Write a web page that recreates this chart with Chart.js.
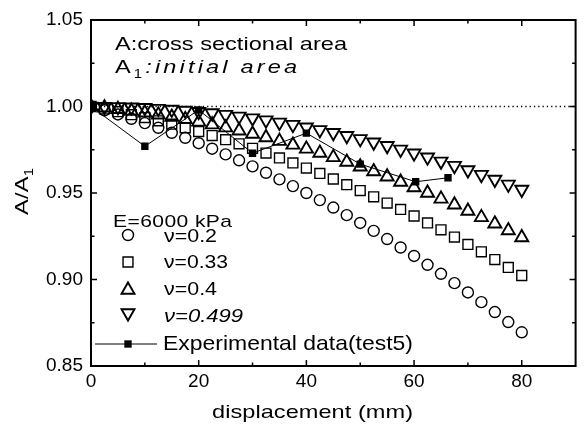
<!DOCTYPE html>
<html><head><meta charset="utf-8">
<script src="https://cdn.jsdelivr.net/npm/chart.js@4.4.1/dist/chart.umd.min.js"></script>
<style>html,body{margin:0;padding:0;background:#fff}canvas{display:block}</style>
</head><body>
<canvas id="c" width="585" height="425"></canvas>
<script>
// ---------- data ----------
const displacement = [0,2.5,5,7.5,10,12.5,15,17.5,20,22.5,25,27.5,30,32.5,35,37.5,40,42.5,45,47.5,50,52.5,55,57.5,60,62.5,65,67.5,70,72.5,75,77.5,80];
const nu02   = [1.000,0.9978,0.9954,0.9929,0.9904,0.9877,0.9848,0.9819,0.9788,0.9756,0.9723,0.9689,0.9654,0.9617,0.9579,0.9540,0.9500,0.9459,0.9416,0.9372,0.9327,0.9281,0.9234,0.9185,0.9136,0.9085,0.9033,0.8979,0.8925,0.8869,0.8812,0.8754,0.8695];
const nu033  = [1.000,0.9986,0.9970,0.9953,0.9936,0.9917,0.9898,0.9877,0.9855,0.9832,0.9808,0.9784,0.9758,0.9731,0.9703,0.9674,0.9644,0.9613,0.9581,0.9548,0.9514,0.9478,0.9442,0.9405,0.9367,0.9327,0.9287,0.9245,0.9203,0.9160,0.9115,0.9070,0.9023];
const nu04   = [1.000,0.9993,0.9984,0.9974,0.9964,0.9952,0.9939,0.9926,0.9911,0.9895,0.9878,0.9860,0.9841,0.9821,0.9800,0.9778,0.9755,0.9731,0.9706,0.9679,0.9652,0.9624,0.9594,0.9564,0.9532,0.9500,0.9466,0.9432,0.9396,0.9359,0.9322,0.9283,0.9243];
const nu0499 = [1.000,0.9999,0.9998,0.9996,0.9993,0.9988,0.9983,0.9977,0.9970,0.9962,0.9953,0.9943,0.9933,0.9921,0.9908,0.9895,0.9880,0.9865,0.9848,0.9831,0.9813,0.9793,0.9773,0.9752,0.9730,0.9707,0.9683,0.9658,0.9633,0.9606,0.9578,0.9550,0.9520];
const expDisp  = [0,10,20,30,40,50,60.3,66.3];
const expRatio = [1.000,0.977,0.998,0.973,0.9846,0.9667,0.9565,0.9588];
const xMin = 0, xMax = 90, yMin = 0.85, yMax = 1.05;
const xTicks = [0,20,40,60,80];
const xMinorTicks = [10,30,50,70];
const yTicks = [0.85,0.90,0.95,1.00,1.05];
const yMinorTicks = [0.875,0.925,0.975,1.025];
const initialLevel = 1.0;
const seriesLabels = ['ν=0.2','ν=0.33','ν=0.4','ν=0.499','Experimental data(test5)'];

// ---------- chart ----------
const FAM = "'Liberation Sans', Arial, Helvetica, sans-serif";
const pts = (xs, ys) => xs.map((x, i) => ({x: x, y: ys[i]}));
const openMarker = {showLine:false, borderColor:'#000', backgroundColor:'rgba(0,0,0,0)',
  pointBackgroundColor:'rgba(0,0,0,0)', pointBorderColor:'#000'};

const datasets = [
  Object.assign({label:seriesLabels[0], data:pts(displacement,nu02), pointStyle:'circle', pointRadius:5.5, pointBorderWidth:1.4}, openMarker),
  Object.assign({label:seriesLabels[1], data:pts(displacement,nu033), pointStyle:'rect', pointRadius:7, pointBorderWidth:1.4}, openMarker),
  Object.assign({label:seriesLabels[2], data:pts(displacement,nu04), pointStyle:'triangle', pointRadius:7.5, pointBorderWidth:1.9}, openMarker),
  Object.assign({label:seriesLabels[3], data:pts(displacement,nu0499), pointStyle:'triangle', pointRotation:180, pointRadius:7.5, pointBorderWidth:1.9}, openMarker),
  {label:seriesLabels[4], data:pts(expDisp,expRatio), showLine:true, borderColor:'#000', borderWidth:1, tension:0,
   pointStyle:'rect', pointRadius:5.2, pointBackgroundColor:'#000', pointBorderColor:'#000', pointBorderWidth:0},
  {label:'ref', data:[{x:xMin,y:initialLevel},{x:xMax,y:initialLevel}], showLine:true, borderColor:'#000',
   borderWidth:1.3, borderDash:[1.3,3], pointRadius:0}
];

// text drawn with a horizontal stretch (and letter spacing only if still short) to match the reference's wide type
const SX = 1.24;
function runsWidth(ctx, runs){ let w = 0; for (const r of runs){ ctx.font = r.font; w += ctx.measureText(r.t).width; } return w; }
function drawRuns(ctx, runs, x, y, targetW, align, rot){
  const w = runsWidth(ctx, runs);
  const n = runs.reduce((s, r) => s + r.t.length, 0);
  let ls = n > 1 ? (targetW / SX - w) / (n - 1) : 0;
  let sx = SX;
  if (ls < 0) { ls = 0; sx = targetW / w; }
  const total = w + ls * (n - 1);
  ctx.save(); ctx.translate(x, y); if (rot) ctx.rotate(rot); ctx.scale(sx, 1);
  ctx.fillStyle = '#000'; ctx.textBaseline = 'alphabetic'; ctx.textAlign = 'left';
  let cx = align === 'center' ? -total/2 : 0;
  for (const r of runs){
    ctx.font = r.font;
    if (ls === 0) { ctx.fillText(r.t, cx, r.dy || 0); cx += ctx.measureText(r.t).width; }
    else for (const ch of r.t){ ctx.fillText(ch, cx, r.dy || 0); cx += ctx.measureText(ch).width + ls; }
  }
  ctx.restore();
}
const F = (s, it) => (it ? 'italic ' : '') + s + 'px ' + FAM;

const decor = {
  id:'decor',
  afterDraw(chart){
    const ctx = chart.ctx, a = chart.chartArea, xs = chart.scales.x, ys = chart.scales.y;
    ctx.save();
    ctx.strokeStyle = '#000'; ctx.lineWidth = 1.5;
    const tick = (x1,y1,x2,y2) => { ctx.beginPath(); ctx.moveTo(x1,y1); ctx.lineTo(x2,y2); ctx.stroke(); };
    for (const v of xTicks){ const p = xs.getPixelForValue(v); tick(p,a.bottom,p,a.bottom-6); tick(p,a.top,p,a.top+6); }
    for (const v of xMinorTicks){ const p = xs.getPixelForValue(v); tick(p,a.bottom,p,a.bottom-3.5); tick(p,a.top,p,a.top+3.5); }
    for (const v of yTicks){ const p = ys.getPixelForValue(v); tick(a.left,p,a.left+6,p); tick(a.right,p,a.right-6,p); }
    for (const v of yMinorTicks){ const p = ys.getPixelForValue(v); tick(a.left,p,a.left+3.5,p); tick(a.right,p,a.right-3.5,p); }
    ctx.lineWidth = 2;
    ctx.strokeRect(a.left, a.top, a.right - a.left, a.bottom - a.top);

    // annotation texts
    drawRuns(ctx, [{t:'A:cross sectional area', font:F(19)}], 115, 50, 232);
    drawRuns(ctx, [{t:'A', font:F(19)}, {t:'1', font:F(12), dy:5}, {t:':initial area', font:F(19,true)}], 115, 73, 182);
    drawRuns(ctx, [{t:'E=6000 kPa', font:F(17)}], 113, 227, 119);

    // legend
    const ds = chart.data.datasets;
    const rows = [
      {i:0, y:235, base:242, w:53, it:false},
      {i:1, y:262, base:268, w:64, it:false},
      {i:2, y:290, base:295, w:53, it:false},
      {i:3, y:313, base:322, w:79, it:true}
    ];
    for (const r of rows){
      const d = ds[r.i];
      ctx.strokeStyle = '#000'; ctx.fillStyle = 'rgba(0,0,0,0)';
      ctx.lineWidth = d.pointBorderWidth;
      Chart.helpers.drawPoint(ctx, {pointStyle:d.pointStyle, radius:d.pointRadius, rotation:d.pointRotation || 0, borderWidth:d.pointBorderWidth}, 128, r.y);
      drawRuns(ctx, [{t:d.label, font:F(19, r.it)}], 164, r.base, r.w);
    }
    const e = ds[4];
    ctx.strokeStyle = '#000'; ctx.lineWidth = 1;
    tick(95, 344, 157, 344);
    ctx.fillStyle = '#000';
    Chart.helpers.drawPoint(ctx, {pointStyle:'rect', radius:e.pointRadius, rotation:0, borderWidth:0}, 128, 344);
    drawRuns(ctx, [{t:e.label, font:F(21)}], 163, 350, 250);

    // axis titles
    drawRuns(ctx, [{t:'displacement (mm)', font:F(19)}], 312.5, 418, 201, 'center');
    drawRuns(ctx, [{t:'A/A', font:F(19)}, {t:'1', font:F(12), dy:5}], 28, 215, 47, 'left', -Math.PI/2);
    ctx.restore();
  }
};

new Chart(document.getElementById('c'), {
  type:'scatter',
  data:{datasets:datasets},
  options:{
    responsive:false, animation:false, devicePixelRatio:1,
    layout:{padding:{left:0, right:0, top:20, bottom:0}},
    plugins:{legend:{display:false}, tooltip:{enabled:false}},
    scales:{
      x:{type:'linear', min:xMin, max:xMax,
         grid:{display:false, drawTicks:false}, border:{display:false},
         ticks:{color:'#000', font:{family:FAM, size:19}, padding:4, maxRotation:0},
         afterBuildTicks:s => { s.ticks = xTicks.map(v => ({value:v})); },
         afterFit:s => { s.height = 59; }},
      y:{type:'linear', min:yMin, max:yMax,
         grid:{display:false, drawTicks:false}, border:{display:false},
         ticks:{color:'#000', font:{family:FAM, size:19}, padding:8, callback:v => v.toFixed(2)},
         afterBuildTicks:s => { s.ticks = yTicks.map(v => ({value:v})); },
         afterFit:s => { s.width = 91; }}
    }
  },
  plugins:[decor]
});
</script>
</body></html>
